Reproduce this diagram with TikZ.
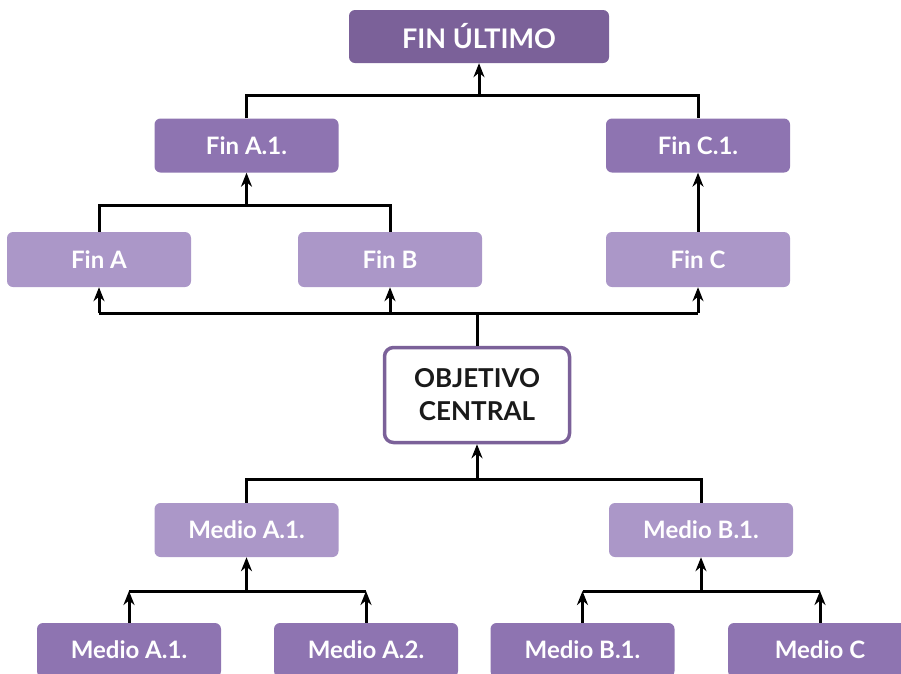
\documentclass[tikz,border=0pt]{standalone}
\usepackage{fontspec}
\setmainfont{Lato}
\usetikzlibrary{arrows.meta}
\definecolor{pdark}{HTML}{7B6199}
\definecolor{pmid}{HTML}{8E74B1}
\definecolor{plight}{HTML}{AB97C8}
\definecolor{txt}{HTML}{1A1A1A}
\tikzset{
  box/.style={rounded corners=6pt, draw=none, text=white, font=\fontsize{24}{30}\selectfont\bfseries, align=center, inner sep=0pt},
  topbox/.style={box, fill=pdark, minimum width=260pt, minimum height=53pt, font=\fontsize{27}{30}\selectfont\bfseries},
  midbox/.style={box, fill=pmid, minimum width=184pt, minimum height=54pt},
  lightbox/.style={box, fill=plight, minimum width=184pt, minimum height=55pt},
  objbox/.style={rounded corners=9pt, draw=pdark, line width=3.5pt, fill=white, text=txt, font=\fontsize{26}{33}\selectfont\bfseries, align=center, minimum width=185pt, minimum height=95pt},
  conn/.style={line width=3pt, black},
  arr/.style={conn, -{Stealth[length=14pt,width=11pt,inset=4.5pt]}}
}
\begin{document}
\begin{tikzpicture}[x=1pt,y=-1pt]
\useasboundingbox (0,0) rectangle (901,673);
\clip (0,0) rectangle (901,673);
% nodes
\node[topbox] (fin) at (479,36.5) {FIN ÚLTIMO};
\node[midbox] (finA1) at (246.5,145.5) {Fin A.1.};
\node[midbox] (finC1) at (698,145.5) {Fin C.1.};
\node[lightbox] (finA) at (99,259.5) {Fin A};
\node[lightbox] (finB) at (390,259.5) {Fin B};
\node[lightbox] (finC) at (698,259.5) {Fin C};
\node[objbox] (obj) at (477,395) {OBJETIVO\\CENTRAL};
\node[lightbox, minimum height=54pt] (medA1) at (246.5,530) {Medio A.1.};
\node[lightbox, minimum height=54pt] (medB1) at (701,530) {Medio B.1.};
\node[midbox] (bA1) at (129,650) {Medio A.1.};
\node[midbox] (bA2) at (366,650) {Medio A.2.};
\node[midbox] (bB1) at (582.5,650) {Medio B.1.};
\node[midbox] (bC) at (820,650) {Medio C};
% junctions
\coordinate (jTop) at (479,95);
\coordinate (jA) at (246.5,205);
\coordinate (jM) at (477,313);
\coordinate (jO) at (477,479);
\coordinate (jBA) at (246.5,591);
\coordinate (jBB) at (701,591);
% top level
\draw[conn] (finA1.north) |- (jTop) -| (finC1.north);
\draw[arr] (jTop) -- (fin.south);
% fin A, B -> fin A.1.
\draw[conn] (finA.north) |- (jA) -| (finB.north);
\draw[arr] (jA) -- (finA1.south);
% fin C -> fin C.1.
\draw[arr] (finC.north) -- (finC1.south);
% objetivo -> fines
\draw[conn] (obj.north) -- (jM);
\draw[conn] (finA.south |- jM) -- (finC.south |- jM);
\draw[arr] (finA.south |- jM) -- (finA.south);
\draw[arr] (finB.south |- jM) -- (finB.south);
\draw[arr] (finC.south |- jM) -- (finC.south);
% medios -> objetivo
\draw[conn] (medA1.north) |- (jO) -| (medB1.north);
\draw[arr] (jO) -- (obj.south);
% bottom A
\draw[conn] (bA1.north |- jBA) -- (bA2.north |- jBA);
\draw[arr] (jBA) -- (medA1.south);
\draw[arr] (bA1.north) -- (bA1.north |- jBA);
\draw[arr] (bA2.north) -- (bA2.north |- jBA);
% bottom B
\draw[conn] (bB1.north |- jBB) -- (bC.north |- jBB);
\draw[arr] (jBB) -- (medB1.south);
\draw[arr] (bB1.north) -- (bB1.north |- jBB);
\draw[arr] (bC.north) -- (bC.north |- jBB);
\end{tikzpicture}
\end{document}
